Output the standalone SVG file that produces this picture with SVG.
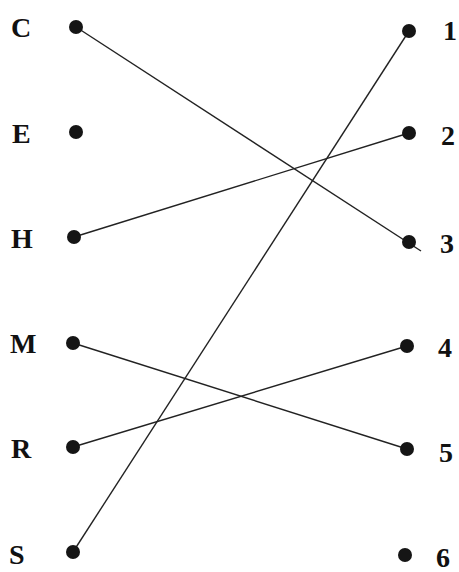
<svg xmlns="http://www.w3.org/2000/svg" width="459" height="572" viewBox="0 0 459 572">
<style>
.lbl{font-family:"Liberation Serif","Times New Roman",serif;font-weight:bold;font-size:28px;fill:#111}
.dot{fill:#151515}
.edge{stroke:#222;stroke-width:1.4;fill:none}
</style>
<rect width="459" height="572" fill="#fff"/>
<g id="connectors">
<line class="edge" x1="76" y1="27" x2="421" y2="251"/>
<line class="edge" x1="74" y1="237" x2="409" y2="133"/>
<line class="edge" x1="73" y1="343" x2="407" y2="449"/>
<line class="edge" x1="73" y1="447" x2="407" y2="346"/>
<line class="edge" x1="73" y1="552" x2="409" y2="31"/>
</g>
<g id="node-C"><circle class="dot" cx="76" cy="27" r="7"/><text class="lbl" x="11" y="37">C</text></g>
<g id="node-E"><circle class="dot" cx="76" cy="132" r="7"/><text class="lbl" x="12" y="143">E</text></g>
<g id="node-H"><circle class="dot" cx="74" cy="237" r="7"/><text class="lbl" x="11" y="248">H</text></g>
<g id="node-M"><circle class="dot" cx="73" cy="343" r="7"/><text class="lbl" x="10" y="353">M</text></g>
<g id="node-R"><circle class="dot" cx="73" cy="447" r="7"/><text class="lbl" x="11" y="458">R</text></g>
<g id="node-S"><circle class="dot" cx="73" cy="552" r="7"/><text class="lbl" x="9" y="564">S</text></g>
<g id="node-1"><circle class="dot" cx="409" cy="31" r="7"/><text class="lbl" x="443" y="40">1</text></g>
<g id="node-2"><circle class="dot" cx="409" cy="133" r="7"/><text class="lbl" x="441" y="145">2</text></g>
<g id="node-3"><circle class="dot" cx="409" cy="242" r="7"/><text class="lbl" x="440" y="253">3</text></g>
<g id="node-4"><circle class="dot" cx="407" cy="346" r="7"/><text class="lbl" x="438" y="357">4</text></g>
<g id="node-5"><circle class="dot" cx="407" cy="449" r="7"/><text class="lbl" x="439" y="462">5</text></g>
<g id="node-6"><circle class="dot" cx="405" cy="555" r="7"/><text class="lbl" x="436" y="567">6</text></g>
</svg>
